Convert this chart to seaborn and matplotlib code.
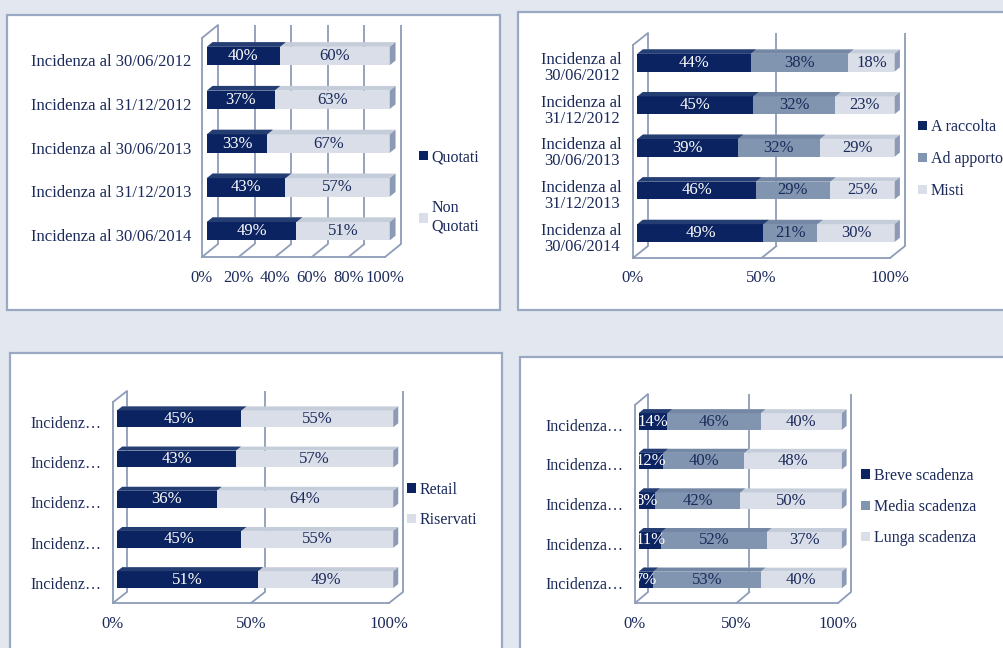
import numpy as np
import pandas as pd
import matplotlib
matplotlib.use("Agg")
import matplotlib.pyplot as plt
import seaborn as sns
from matplotlib.patches import Polygon, Rectangle, Patch

# ---------------- data ----------------
periods = ["Incidenza al 30/06/2012", "Incidenza al 31/12/2012", "Incidenza al 30/06/2013",
           "Incidenza al 31/12/2013", "Incidenza al 30/06/2014"]

p1_names = ["Quotati", "Non\nQuotati"]
p1_quotati = [40, 37, 33, 43, 49]
p1_non_quotati = [60, 63, 67, 57, 51]
p1_ylabels = periods
p1_xticks = [0, 20, 40, 60, 80, 100]

p2_names = ["A raccolta", "Ad apporto", "Misti"]
p2_raccolta = [44, 45, 39, 46, 49]
p2_apporto = [38, 32, 32, 29, 21]
p2_misti = [18, 23, 29, 25, 30]
p2_ylabels = ["Incidenza al\n30/06/2012", "Incidenza al\n31/12/2012", "Incidenza al\n30/06/2013",
              "Incidenza al\n31/12/2013", "Incidenza al\n30/06/2014"]
p2_xticks = [0, 50, 100]

p3_names = ["Retail", "Riservati"]
p3_retail = [45, 43, 36, 45, 51]
p3_riservati = [55, 57, 64, 55, 49]
p3_ylabels = ["Incidenz…"] * 5
p3_xticks = [0, 50, 100]

p4_names = ["Breve scadenza", "Media scadenza", "Lunga scadenza"]
p4_breve = [14, 12, 8, 11, 7]
p4_media = [46, 40, 42, 52, 53]
p4_lunga = [40, 48, 50, 37, 40]
p4_ylabels = ["Incidenza…"] * 5
p4_xticks = [0, 50, 100]

# ---------------- style ----------------
W, H = 1004, 648
BG = "#E3E7EF"
BORDER = "#9AA8C3"
GRID = "#8E9CB8"
NAVY_TXT = "#1B2A5A"
DARK, MID, LIGHT = "#0B2360", "#8194B0", "#D9DEE8"
TOP = {DARK: "#243D73", MID: "#7487A5", LIGHT: "#C6CDDA"}
SIDE = "#8C9AB5"
LBL = {DARK: "white", MID: NAVY_TXT, LIGHT: NAVY_TXT}

sns.set_style("white")
plt.rcParams["font.family"] = ["Liberation Serif", "DejaVu Serif"]

fig = plt.figure(figsize=(W / 100, H / 100), dpi=100, facecolor=BG)

# panel boxes (pixel coords: left, top, right, bottom)
for (x1, y1, x2, y2) in [(7, 15, 500, 310), (518, 12, 1010, 310),
                         (10, 353, 502, 660), (520, 357, 1010, 660)]:
    fig.add_artist(Rectangle((x1 / W, 1 - y2 / H), (x2 - x1) / W, (y2 - y1) / H,
                             transform=fig.transFigure, facecolor="white",
                             edgecolor=BORDER, lw=1.6, zorder=-5))


def panel(rect, D, series, names, colors, ylabels, xticks, leg_xy, leg_spacing,
          ylab_size=11.5, ylab_kw=None):
    l, t, r, b = rect
    ax = fig.add_axes([l / W, 1 - b / H, (r - l) / W, (b - t) / H])
    ax.patch.set_visible(False)
    n = len(ylabels)
    vals = np.array(series, dtype=float)
    cum = np.cumsum(vals, axis=0)
    df = pd.DataFrame({"period": periods})
    for k in reversed(range(len(series))):
        df["v"] = cum[k]
        sns.barplot(data=df, x="v", y="period", orient="h", color=colors[k],
                    saturation=1, width=0.42, errorbar=None, ax=ax,
                    edgecolor="none", linewidth=0)
    ax.set_xlim(0, 100)
    ax.set_ylim(n - 0.5, -0.5)
    kx = 100.0 / (r - l)
    ky = n / float(b - t)
    Dx, Dy = D[0] * kx, -D[1] * ky
    sx, sy = 0.3 * Dx, 0.3 * Dy
    bx, by = 0.36 * Dx, 0.36 * Dy

    # back wall grid + floor diagonals
    for v in xticks:
        ax.plot([v + Dx, v + Dx], [n - 0.5 + Dy, -0.5 + Dy], color=GRID, lw=1.3,
                zorder=1, clip_on=False, solid_capstyle="butt")
        ax.plot([v, v + Dx], [n - 0.5, n - 0.5 + Dy], color=GRID, lw=1.3,
                zorder=1, clip_on=False)
    ax.plot([0, Dx], [-0.5, -0.5 + Dy], color=GRID, lw=1.3, zorder=1, clip_on=False)

    # 3D bars
    for ci, cont in enumerate(ax.containers):
        col = colors[len(series) - 1 - ci]
        for p in cont.patches:
            x0, w, y0, h = p.get_x(), p.get_width(), p.get_y(), p.get_height()
            p.set_x(x0 + sx)
            p.set_y(y0 + sy)
            p.set_zorder(3 + ci)
            p.set_clip_on(False)
            X0, X1, Y0, Y1 = x0 + sx, x0 + w + sx, y0 + sy, y0 + h + sy
            ax.add_patch(Polygon([(X0, Y0), (X1, Y0), (X1 + bx, Y0 + by), (X0 + bx, Y0 + by)],
                                 closed=True, facecolor=TOP[col], edgecolor="none",
                                 zorder=3 + ci, clip_on=False))
            if ci == 0:
                ax.add_patch(Polygon([(X1, Y0), (X1 + bx, Y0 + by), (X1 + bx, Y1 + by), (X1, Y1)],
                                     closed=True, facecolor=SIDE, edgecolor="none",
                                     zorder=3, clip_on=False))

    # data labels
    for k in range(len(series)):
        for i in range(n):
            xc = cum[k][i] - vals[k][i] / 2 + sx
            ax.text(xc, i + sy, f"{int(vals[k][i])}%", ha="center", va="center",
                    color=LBL[colors[k]], fontsize=12, zorder=20)

    # axes styling
    for s in ["top", "right"]:
        ax.spines[s].set_visible(False)
    for s in ["left", "bottom"]:
        ax.spines[s].set_color(GRID)
        ax.spines[s].set_linewidth(1.3)
    ax.set_xticks(xticks)
    ax.set_xticklabels([f"{v}%" for v in xticks])
    ax.set_yticks(range(n))
    ax.set_yticklabels(ylabels, **(ylab_kw or {}))
    ax.set_yticks(np.arange(n + 1) - 0.5, minor=True)
    ax.tick_params(axis="x", length=3, width=1.3, color=GRID, labelsize=12,
                   labelcolor=NAVY_TXT, pad=6)
    ax.tick_params(axis="y", which="major", length=0, labelsize=ylab_size,
                   labelcolor=NAVY_TXT, pad=8)
    ax.tick_params(axis="y", which="minor", length=4, width=1.3, color=GRID)
    ax.set_xlabel("")
    ax.set_ylabel("")

    handles = [Patch(facecolor=c, edgecolor="none") for c in colors]
    ax.legend(handles, names, loc="center left",
              bbox_to_anchor=(leg_xy[0] / W, 1 - leg_xy[1] / H),
              bbox_transform=fig.transFigure, frameon=False, fontsize=11.5,
              handlelength=0.55, handleheight=0.55, handletextpad=0.25,
              labelspacing=leg_spacing, borderpad=0, borderaxespad=0,
              labelcolor=NAVY_TXT)
    return ax


panel((202, 38, 385, 257), (16, 13), [p1_quotati, p1_non_quotati], p1_names,
      [DARK, LIGHT], p1_ylabels, p1_xticks, (419, 192), 2.2, ylab_size=12)
panel((633, 45, 890, 258), (15, 12), [p2_raccolta, p2_apporto, p2_misti], p2_names,
      [DARK, MID, LIGHT], p2_ylabels, p2_xticks, (918, 159), 1.0, ylab_size=12,
      ylab_kw=dict(multialignment="center", linespacing=1.0))
panel((113, 402, 389, 603), (14, 11), [p3_retail, p3_riservati], p3_names,
      [DARK, LIGHT], p3_ylabels, p3_xticks, (407, 505), 0.9)
panel((635, 405, 838, 603), (13, 11), [p4_breve, p4_media, p4_lunga], p4_names,
      [DARK, MID, LIGHT], p4_ylabels, p4_xticks, (861, 507), 0.95)

fig.savefig("out.png", dpi=100, facecolor=BG)
